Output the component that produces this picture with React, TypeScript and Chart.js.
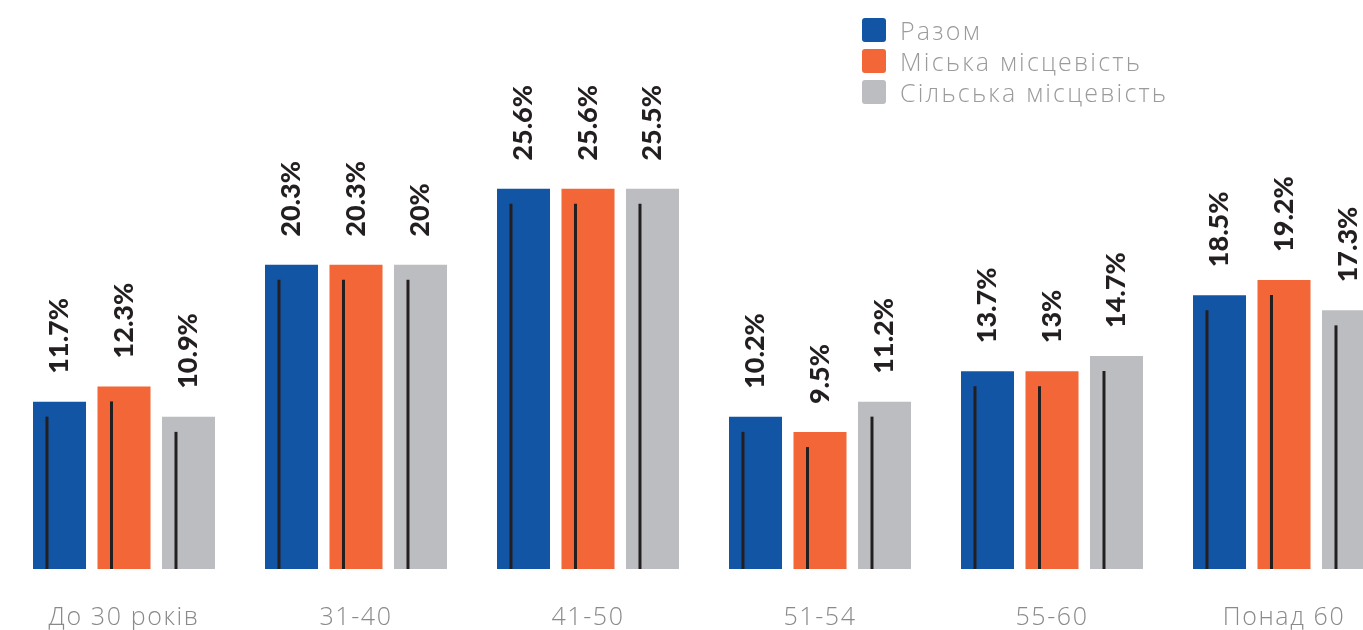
import React, { useEffect, useRef } from "react";
import { Chart, registerables } from "chart.js";

Chart.register(...registerables);

const categories = ["До 30 років", "31-40", "41-50", "51-54", "55-60", "Понад 60"];
const seriesNames = ["Разом", "Міська місцевість", "Сільська місцевість"];
const seriesColors = ["#1255A5", "#F26637", "#BCBDC0"];

// values printed above the bars
const razomLabels = [11.7, 20.3, 25.6, 10.2, 13.7, 18.5];
const miskaLabels = [12.3, 20.3, 25.6, 9.5, 13, 19.2];
const silskaLabels = [10.9, 20, 25.5, 11.2, 14.7, 17.3];

// bar heights as drawn in the picture
const razomBars = [11, 20, 25, 10, 13, 18];
const miskaBars = [12, 20, 25, 9, 13, 19];
const silskaBars = [10, 20, 25, 11, 14, 17];

const barSets = [razomBars, miskaBars, silskaBars];
const labelSets = [razomLabels, miskaLabels, silskaLabels];

const valueFont = "'Lato', 'Liberation Sans', sans-serif";
const lightFont = "'Open Sans', 'Lato', sans-serif";

const decorPlugin = {
  id: "decor",
  beforeDraw(chart: any) {
    (chart.ctx as any).letterSpacing = "1.6px";
  },
  afterDatasetsDraw(chart: any) {
    const ctx = chart.ctx;
    chart.data.datasets.forEach((ds: any, di: number) => {
      const meta = chart.getDatasetMeta(di);
      meta.data.forEach((bar: any, i: number) => {
        const left = bar.x - bar.width / 2;
        // inner dark stroke
        ctx.save();
        ctx.strokeStyle = "#231F20";
        ctx.lineWidth = 3;
        ctx.beginPath();
        ctx.moveTo(left + 14, bar.y + 15);
        ctx.lineTo(left + 14, bar.base);
        ctx.stroke();
        ctx.restore();
        // rotated value label
        ctx.save();
        (ctx as any).letterSpacing = "0px";
        ctx.translate(bar.x, bar.y - 28);
        ctx.rotate(-Math.PI / 2);
        ctx.font = `900 27px ${valueFont}`;
        ctx.fillStyle = "#231F20";
        ctx.textAlign = "left";
        ctx.textBaseline = "middle";
        ctx.fillText(String(labelSets[di][i]) + "%", 0, 0);
        ctx.restore();
      });
    });
  },
};

export default function App() {
  const canvasRef = useRef<HTMLCanvasElement | null>(null);

  useEffect(() => {
    if (!canvasRef.current) return;
    const chart = new Chart(canvasRef.current, {
      type: "bar",
      data: {
        labels: categories,
        datasets: seriesNames.map((name, i) => ({
          label: name,
          data: barSets[i],
          backgroundColor: seriesColors[i],
          borderWidth: 0,
          categoryPercentage: 0.834,
          barPercentage: 0.822,
        })),
      },
      options: {
        animation: false,
        responsive: false,
        layout: { padding: { left: 8, right: 0, top: 0, bottom: 0 } },
        plugins: {
          legend: { display: false },
          tooltip: { enabled: false },
        },
        scales: {
          x: {
            grid: { display: false, drawTicks: false },
            border: { display: false },
            ticks: {
              padding: 34,
              color: "#8A8A8A",
              font: { family: lightFont, size: 25, weight: "300" as any },
              maxRotation: 0,
              autoSkip: false,
            },
            afterFit: (scale: any) => {
              scale.height = 61;
            },
          },
          y: {
            display: false,
            min: 0,
            max: 37.4,
          },
        },
      },
      plugins: [decorPlugin],
    });
    return () => chart.destroy();
  }, []);

  return (
    <div
      style={{
        position: "absolute",
        left: 0,
        top: 0,
        width: 1363,
        height: 630,
        overflow: "hidden",
        background: "#fff",
      }}
    >
      <canvas ref={canvasRef} width={1400} height={630} style={{ display: "block" }} />
      <div style={{ position: "absolute", left: 862, top: 18 }}>
        {seriesNames.map((name, i) => (
          <div
            key={name}
            style={{ display: "flex", alignItems: "center", height: 24, marginBottom: 7 }}
          >
            <div
              style={{
                width: 24,
                height: 24,
                borderRadius: 3,
                background: seriesColors[i],
                marginRight: 14,
              }}
            />
            <span
              style={{
                fontFamily: lightFont,
                fontWeight: 300,
                fontSize: 25,
                color: "#9B9B9B",
                whiteSpace: "nowrap",
                lineHeight: "24px",
                letterSpacing: "2.2px",
              }}
            >
              {name}
            </span>
          </div>
        ))}
      </div>
    </div>
  );
}
